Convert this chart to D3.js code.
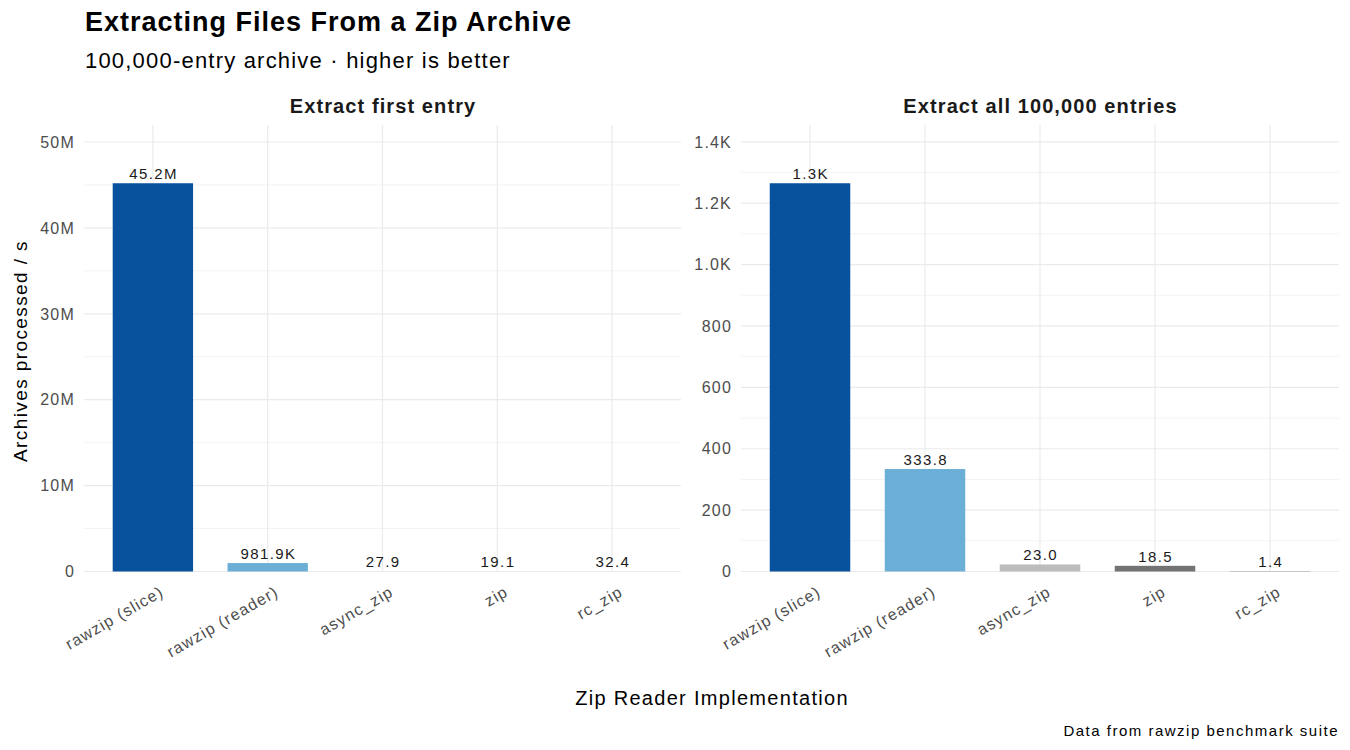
<!DOCTYPE html>
<html><head><meta charset="utf-8">
<script src="https://cdn.jsdelivr.net/npm/d3@7"></script>
<style>body{margin:0;background:#fff;} svg{font-family:"Liberation Sans",Arial,sans-serif;}</style>
</head><body><svg id="c" width="1350" height="750"></svg>
<script>
const categories = ["rawzip (slice)", "rawzip (reader)", "async_zip", "zip", "rc_zip"];
const colors = ["#08519c", "#6baed6", "#bdbdbd", "#737373", "#969696"];
const panelTitles = ["Extract first entry", "Extract all 100,000 entries"];
const firstEntryValues = [45200000, 981900, 27.9, 19.1, 32.4];
const allEntriesValues = [1265, 333.8, 23.0, 18.5, 1.4];
const valueLabelsFirst = ["45.2M", "981.9K", "27.9", "19.1", "32.4"];
const valueLabelsAll = ["1.3K", "333.8", "23.0", "18.5", "1.4"];
const ticksFirst = [0, 10e6, 20e6, 30e6, 40e6, 50e6];
const tickLabelsFirst = ["0", "10M", "20M", "30M", "40M", "50M"];
const ticksAll = [0, 200, 400, 600, 800, 1000, 1200, 1400];
const tickLabelsAll = ["0", "200", "400", "600", "800", "1.0K", "1.2K", "1.4K"];

const svg = d3.select("#c");
const panelTop = 125, panelBottom = 571.5;
const panels = [
  {x0: 84, x1: 681, values: firstEntryValues, labels: valueLabelsFirst, ticks: ticksFirst, tickLabels: tickLabelsFirst, title: panelTitles[0]},
  {x0: 741, x1: 1339, values: allEntriesValues, labels: valueLabelsAll, ticks: ticksAll, tickLabels: tickLabelsAll, title: panelTitles[1]}
];

panels.forEach(p => {
  const g = svg.append("g");
  const x = d3.scaleBand().domain(categories).range([p.x0, p.x1]).paddingInner(0.3).paddingOuter(0.25);
  const ymax = d3.max(p.values) * 1.15;
  const y = d3.scaleLinear().domain([0, ymax]).range([panelBottom, panelTop]);
  const step = p.ticks[1] - p.ticks[0];
  const minor = [];
  for (let i = 0; i < p.ticks.length; i++) { const m = p.ticks[i] + step/2; if (m < ymax) minor.push(m); }
  g.selectAll(".mn").data(minor).join("line")
    .attr("x1", p.x0).attr("x2", p.x1).attr("y1", d => y(d)).attr("y2", d => y(d))
    .attr("stroke", "#ebebeb").attr("stroke-width", 0.6);
  g.selectAll(".mj").data(p.ticks).join("line")
    .attr("x1", p.x0).attr("x2", p.x1).attr("y1", d => y(d)).attr("y2", d => y(d))
    .attr("stroke", "#ebebeb").attr("stroke-width", 1.2);
  g.selectAll(".vg").data(categories).join("line")
    .attr("x1", d => x(d) + x.bandwidth()/2).attr("x2", d => x(d) + x.bandwidth()/2)
    .attr("y1", panelTop).attr("y2", panelBottom)
    .attr("stroke", "#ebebeb").attr("stroke-width", 1.2);
  g.selectAll(".yt").data(p.ticks).join("text")
    .attr("x", p.x0 - 9).attr("y", d => y(d)).attr("dy", "0.36em")
    .attr("text-anchor", "end").attr("font-size", 16).attr("letter-spacing", 1.2).attr("fill", "#4d4d4d")
    .text((d, i) => p.tickLabels[i]);
  g.selectAll(".bar").data(categories).join("rect")
    .attr("x", d => x(d)).attr("width", x.bandwidth())
    .attr("y", (d, i) => y(p.values[i])).attr("height", (d, i) => panelBottom - y(p.values[i]))
    .attr("fill", (d, i) => colors[i]);
  g.selectAll(".vl").data(categories).join("text")
    .attr("x", d => x(d) + x.bandwidth()/2 + 0.7).attr("y", (d, i) => y(p.values[i]) - 4)
    .attr("text-anchor", "middle").attr("font-size", 15).attr("letter-spacing", 1.4).attr("fill", "#1a1a1a")
    .text((d, i) => p.labels[i]);
  g.selectAll(".xt").data(categories).join("text")
    .attr("transform", d => `translate(${x(d) + x.bandwidth()/2 + 6},${panelBottom + 13}) rotate(-30)`)
    .attr("text-anchor", "end").attr("dy", "0.75em").attr("font-size", 16).attr("letter-spacing", 1.2).attr("fill", "#4d4d4d")
    .text(d => d);
  svg.append("text").attr("x", (p.x0 + p.x1)/2 + 0.5).attr("y", 113)
    .attr("text-anchor", "middle").attr("font-size", 20).attr("font-weight", "bold").attr("letter-spacing", 1.1).attr("fill", "#1a1a1a")
    .text(p.title);
});

svg.append("text").attr("x", 85).attr("y", 31).attr("font-size", 27).attr("font-weight", "bold").attr("letter-spacing", 1).attr("fill", "#000")
  .text("Extracting Files From a Zip Archive");
svg.append("text").attr("x", 85).attr("y", 68).attr("font-size", 22).attr("letter-spacing", 1.2).attr("fill", "#000")
  .text("100,000-entry archive · higher is better");
svg.append("text").attr("transform", "translate(27,351) rotate(-90)").attr("text-anchor", "middle")
  .attr("font-size", 19).attr("letter-spacing", 1.4).attr("fill", "#000").text("Archives processed / s");
svg.append("text").attr("x", 712).attr("y", 705).attr("text-anchor", "middle")
  .attr("font-size", 20).attr("letter-spacing", 1.3).attr("fill", "#000").text("Zip Reader Implementation");
svg.append("text").attr("x", 1339).attr("y", 736).attr("text-anchor", "end")
  .attr("font-size", 15).attr("letter-spacing", 1.5).attr("fill", "#000").text("Data from rawzip benchmark suite");
</script></body></html>
